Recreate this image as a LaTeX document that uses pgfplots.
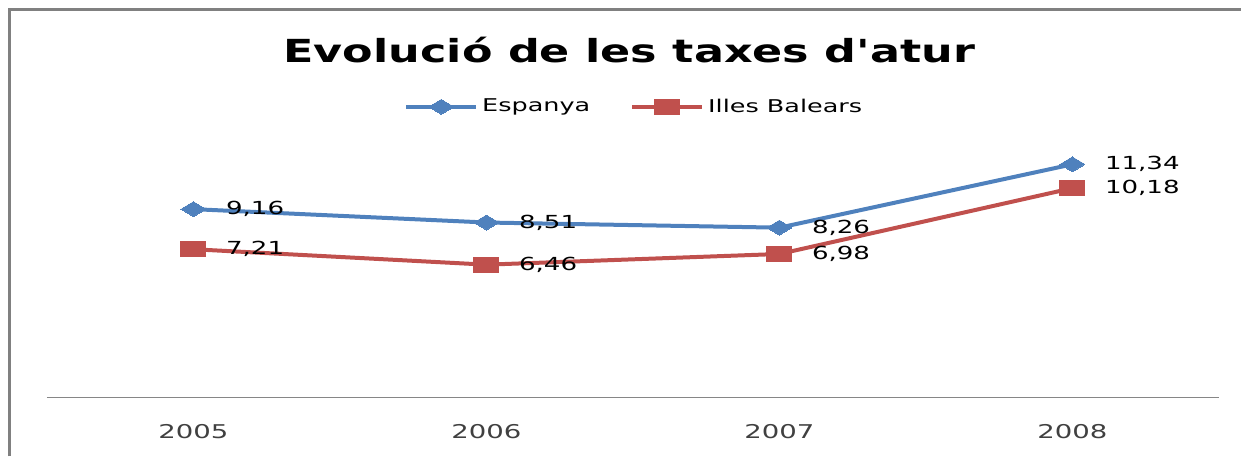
\documentclass[border=0pt]{standalone}
\usepackage{pgfplots}
\pgfplotsset{compat=1.18}
\usepackage{fontspec}
\setmainfont{DejaVu Sans}[FakeStretch=1.45]
\newfontfamily\titlefont{DejaVu Sans}[FakeStretch=1.4]

\definecolor{espblue}{HTML}{4F81BD}
\definecolor{balred}{HTML}{C0504D}
\definecolor{axgray}{HTML}{868686}
\definecolor{txtgray}{HTML}{404040}

\begin{document}
\begin{tikzpicture}
\begin{axis}[
    scale only axis,
    width=586.5pt, height=123.5pt,
    xmin=-0.5, xmax=3.5, ymin=0, ymax=12,
    axis x line*=bottom,
    hide y axis,
    x axis line style={draw=axgray, line width=0.7pt, -},
    xtick={0,1,2,3},
    xticklabels={2005,2006,2007,2008},
    major tick length=0pt,
    xticklabel style={font=\fontsize{9.5}{11}\selectfont, text=txtgray, yshift=-10pt},
    clip=false,
    nodes near coords,
    point meta=y,
    every node near coord/.append style={anchor=west, xshift=13pt, font=\fontsize{9}{11}\selectfont, text=black},
    /pgf/number format/fixed,
    /pgf/number format/fixed zerofill,
    /pgf/number format/precision=2,
    /pgf/number format/use comma,
    /pgf/number format/assume math mode=true,
    legend style={at={(0.502,1.178)}, anchor=center, draw=none, fill=none,
        font=\fontsize{8.8}{10}\selectfont,
        /tikz/every even column/.append style={column sep=18pt}},
    legend columns=2,
    legend image code/.code={\draw[mark repeat=2, mark phase=2] plot coordinates {(0pt,0pt) (17.5pt,0pt) (35pt,0pt)};},
]
\addplot[espblue, line width=2pt, mark=diamond*, mark size=3.75pt,
    mark options={draw=none, line width=0pt, fill=espblue, xscale=2.22}]
    coordinates {(0,9.16) (1,8.51) (2,8.26) (3,11.34)};
\addplot[balred, line width=2pt, mark=square*, mark size=3.75pt,
    mark options={draw=none, line width=0pt, fill=balred, xscale=1.67}]
    coordinates {(0,7.21) (1,6.46) (2,6.98) (3,10.18)};
\legend{Espanya, Illes Balears}

% title and chart frame (only top and left edges show)
\node[font=\titlefont\bfseries\fontsize{15.9}{18}\selectfont] at (rel axis cs:0.497,1.409) {Evolució de les taxes d'atur};
\draw[draw=gray, line width=1.5pt] (rel axis cs:-0.0324,-0.2389) -- (rel axis cs:-0.0324,1.571) -- (rel axis cs:1.0185,1.571);
\path (rel axis cs:-0.0401,-0.2389) rectangle (rel axis cs:1.01876,1.611);
\end{axis}
\end{tikzpicture}
\end{document}
